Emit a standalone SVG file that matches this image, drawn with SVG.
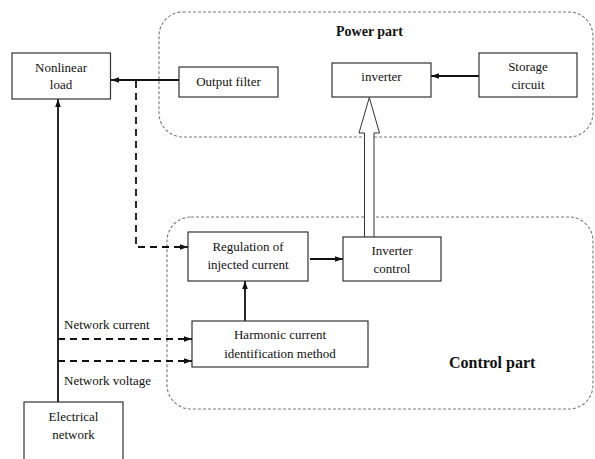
<svg xmlns="http://www.w3.org/2000/svg" width="595" height="459" viewBox="0 0 595 459" font-family="Liberation Serif, Times New Roman, serif">
<style>
.box{fill:#fff;stroke:#333;stroke-width:1.2}
.grp{fill:none;stroke:#777;stroke-width:1.1;stroke-dasharray:3 2}
text{fill:#111}
.t{font-size:13px;text-anchor:middle}
.lbl{font-size:13px}
.title{font-weight:bold}
.solid{fill:none;stroke:#111;stroke-width:1.8}
.dash{fill:none;stroke:#111;stroke-width:1.8;stroke-dasharray:7 5}
</style>
<defs>
<marker id="ah2" viewBox="0 0 10 10" refX="10" refY="5" markerWidth="8" markerHeight="8" orient="auto" markerUnits="userSpaceOnUse">
<path d="M0,1.5 L10,5 L0,8.5 z" fill="#111"/>
</marker>
</defs>
<rect width="595" height="459" fill="#fff"/>

<g id="power-part">
<rect class="grp" x="159" y="12" width="434" height="125" rx="24"/>
<text class="title" x="336" y="36" font-size="14">Power part</text>
</g>
<g id="control-part">
<rect class="grp" x="167" y="217" width="426" height="192" rx="24"/>
<text class="title" x="449" y="368" font-size="16">Control part</text>
</g>

<g id="connectors">
<line class="solid" x1="179" y1="80" x2="111" y2="80" marker-end="url(#ah2)"/>
<line class="solid" x1="479" y1="76" x2="431" y2="76" marker-end="url(#ah2)"/>
<line class="solid" x1="58" y1="402" x2="58" y2="99" marker-end="url(#ah2)"/>
<polyline class="dash" points="136,81 136,247 188,247" marker-end="url(#ah2)"/>
<line class="solid" x1="245" y1="321" x2="245" y2="281" marker-end="url(#ah2)"/>
<line class="solid" x1="310" y1="259" x2="343" y2="259" marker-end="url(#ah2)"/>
<line class="dash" x1="58" y1="339" x2="192" y2="339" marker-end="url(#ah2)"/>
<line class="dash" x1="58" y1="361" x2="192" y2="361" marker-end="url(#ah2)"/>
<polygon points="364.5,238 364.5,133 359,133 369.3,97.5 379.5,133 374,133 374,238" fill="#fff" stroke="#333" stroke-width="1"/>
<text class="lbl" x="64" y="329">Network current</text>
<text class="lbl" x="64" y="385">Network voltage</text>
</g>

<g id="nonlinear-load">
<rect class="box" x="12" y="53" width="98.5" height="46"/>
<text class="t" x="61" y="72">Nonlinear</text>
<text class="t" x="61" y="89">load</text>
</g>
<g id="output-filter">
<rect class="box" x="179" y="67" width="99" height="30"/>
<text class="t" x="228.5" y="86">Output filter</text>
</g>
<g id="inverter">
<rect class="box" x="332" y="63" width="99" height="34"/>
<text class="t" x="381.5" y="81">inverter</text>
</g>
<g id="storage-circuit">
<rect class="box" x="479" y="53" width="98" height="44"/>
<text class="t" x="528" y="71">Storage</text>
<text class="t" x="528" y="89">circuit</text>
</g>
<g id="regulation">
<rect class="box" x="188" y="232" width="120" height="49"/>
<text class="t" x="248" y="251">Regulation of</text>
<text class="t" x="248" y="269">injected current</text>
</g>
<g id="inverter-control">
<rect class="box" x="343" y="237" width="98" height="44"/>
<text class="t" x="392" y="255">Inverter</text>
<text class="t" x="392" y="273">control</text>
</g>
<g id="harmonic">
<rect class="box" x="192" y="321" width="176" height="46"/>
<text class="t" x="280" y="339">Harmonic current</text>
<text class="t" x="280" y="358">identification method</text>
</g>
<g id="electrical-network">
<rect class="box" x="24" y="402" width="99" height="70"/>
<text class="t" x="73.5" y="421">Electrical</text>
<text class="t" x="73.5" y="439">network</text>
</g>
</svg>
